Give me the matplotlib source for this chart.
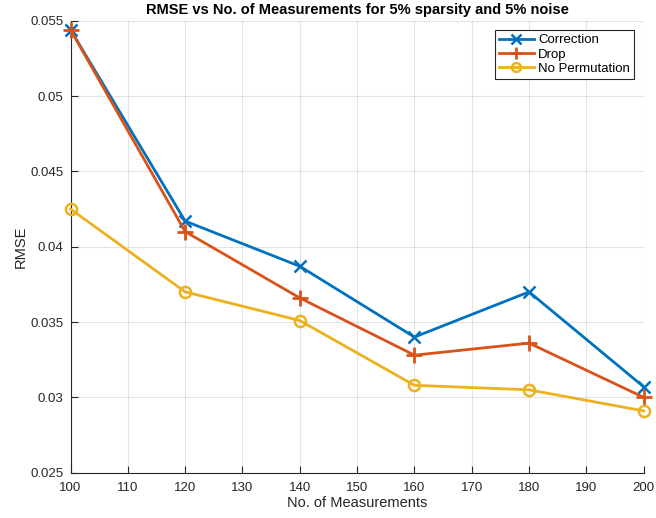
import numpy as np
import matplotlib.pyplot as plt

plt.rcParams['font.family'] = ['Liberation Sans', 'DejaVu Sans']

# number of measurements
n_meas = [100, 120, 140, 160, 180, 200]

# RMSE values
rmse_correction = [0.0544, 0.0417, 0.0387, 0.0340, 0.0370, 0.0307]
rmse_drop = [0.0544, 0.0410, 0.0366, 0.0328, 0.0336, 0.0300]
rmse_noperm = [0.0425, 0.0370, 0.0351, 0.0308, 0.0305, 0.0291]

x_ticks = [100, 110, 120, 130, 140, 150, 160, 170, 180, 190, 200]
y_ticks = [0.025, 0.03, 0.035, 0.04, 0.045, 0.05, 0.055]
y_tick_labels = ['0.025', '0.03', '0.035', '0.04', '0.045', '0.05', '0.055']

axis_col = '#262626'

fig = plt.figure(figsize=(6.56, 5.18), dpi=100)
ax = fig.add_axes([0.1075, 0.0875, 0.8737, 0.8725])

ax.plot(n_meas, rmse_correction, color='#0072BD', lw=2, marker='x', ms=9, mew=1.8,
        label='Correction', clip_on=False, zorder=3)
ax.plot(n_meas, rmse_drop, color='#D95319', lw=2, marker='+', ms=11, mew=2,
        label='Drop', clip_on=False, zorder=3)
ax.plot(n_meas, rmse_noperm, color='#EDB120', lw=2, marker='o', ms=8, mew=1.8,
        mfc='none', label='No Permutation', clip_on=False, zorder=3)

ax.set_xlim(100, 200)
ax.set_ylim(0.025, 0.055)
ax.set_xticks(x_ticks)
ax.set_yticks(y_ticks)
ax.set_yticklabels(y_tick_labels)

ax.grid(True, color='#262626', alpha=0.12, lw=0.8)
ax.set_axisbelow(True)
for s in ['top', 'right']:
    ax.spines[s].set_visible(False)
for s in ['left', 'bottom']:
    ax.spines[s].set_color(axis_col)
    ax.spines[s].set_linewidth(0.8)
ax.tick_params(direction='in', length=5, width=0.8, colors=axis_col,
               labelsize=9.5)
ax.tick_params(axis='x', pad=7)
ax.tick_params(axis='y', pad=5)

ax.set_title('RMSE vs No. of Measurements for 5% sparsity and 5% noise',
             fontsize=10.5, fontweight='bold', pad=5)
ax.set_xlabel('No. of Measurements', fontsize=10.5, color=axis_col, labelpad=1)
ax.set_ylabel('RMSE', fontsize=10.5, color=axis_col, labelpad=2)

leg = ax.legend(loc='upper right', bbox_to_anchor=(0.983, 0.979), fontsize=9.5,
                fancybox=False, framealpha=1, edgecolor='#262626',
                handlelength=2.7, borderpad=0.3, labelspacing=0.15,
                handletextpad=0.3, borderaxespad=0, markerscale=0.8)
leg.get_frame().set_linewidth(0.8)

plt.savefig('out.png', dpi=100)
